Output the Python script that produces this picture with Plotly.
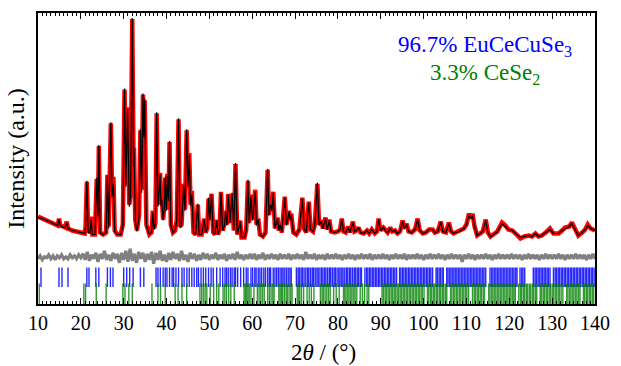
import plotly.graph_objects as go

# ---------------- data ----------------
two_theta = [10.0, 11.0, 12.0, 13.0, 14.0, 14.6, 14.9, 15.2, 16.0, 16.4, 16.7, 17.0, 18.0, 19.0, 20.0,
             20.9, 21.1, 21.4, 21.7, 22.1, 22.4, 22.7, 23.3, 23.7, 24.0, 24.2, 24.5, 25.2, 25.9, 26.2,
             26.5, 27.0, 27.3, 27.6, 27.9, 28.5, 29.3, 29.8, 30.2, 30.5, 30.9, 31.3, 31.6, 32.0, 32.3,
             32.4, 32.7, 33.1, 33.6, 33.9, 34.2, 34.5, 34.7, 34.9, 35.3, 36.0, 36.5, 36.8, 37.1, 37.4,
             37.7, 38.0, 38.2, 38.5, 38.7, 38.9, 39.2, 39.5, 39.7, 39.95, 40.2, 40.45, 40.7, 41.0, 41.5,
             42.0, 42.4, 42.8, 43.1, 43.5, 44.0, 44.3, 44.7, 45.0, 45.3, 45.6, 45.9, 46.3, 46.8, 47.3,
             47.6, 48.2, 48.8, 49.1, 49.5, 49.8, 50.1, 50.5, 50.9, 51.3, 51.7, 52.0, 52.4, 52.7, 53.1,
             53.5, 53.8, 54.1, 54.4, 54.8, 55.3, 55.7, 56.1, 56.5, 57.2, 57.5, 58.2, 58.6, 59.0, 59.3,
             59.7, 60.1, 60.7, 61.0, 61.4, 61.8, 62.5, 63.1, 63.6, 63.9, 64.3, 64.6, 64.9, 65.3, 65.9,
             66.2, 66.5, 66.9, 67.6, 68.0, 68.6, 68.8, 69.1, 69.6, 70.3, 70.8, 71.0, 71.7, 72.1, 72.6,
             73.2, 73.6, 74.2, 74.6, 75.2, 75.6, 76.1, 76.5, 77.1, 77.5, 78.0, 78.4, 79.2, 80.0, 80.5,
             80.9, 81.3, 81.8, 82.4, 82.8, 83.5, 83.9, 84.3, 84.8, 85.3, 86.0, 86.8, 87.3, 87.9, 88.6,
             89.1, 89.5, 89.9, 90.6, 91.2, 91.6, 92.2, 92.7, 93.3, 93.9, 94.5, 95.1, 95.5, 96.0, 96.5,
             97.2, 98.0, 98.6, 99.1, 99.8, 100.5, 101.3, 102.1, 102.6, 103.3, 104.0, 104.5, 105.2, 105.9, 106.4,
             107.0, 107.5, 108.3, 109.0, 109.4, 110.0, 110.6, 111.0, 111.4, 111.9, 112.5, 113.2, 113.8, 114.5, 115.0,
             115.6, 116.4, 117.2, 117.8, 118.3, 119.1, 119.8, 120.7, 121.5, 122.6, 123.5, 124.5, 125.3, 126.1, 126.8,
             127.6, 128.5, 129.5, 130.3, 131.5, 132.3, 133.0, 134.0, 134.6, 135.3, 136.1, 137.0, 137.7, 138.3, 139.0,
             140.0]

i_obs = [88, 86, 84, 82, 80, 79, 86, 79, 78, 77, 83, 76, 74, 73, 72,
         71, 78, 123, 74, 72, 88, 70, 70, 126, 90, 159, 72, 70, 72, 130,
         78, 182, 110, 128, 74, 70, 70, 80, 216, 120, 198, 100, 110, 287, 140,
         157, 85, 74, 90, 175, 115, 211, 170, 205, 80, 70, 72, 94, 76, 82,
         192, 100, 110, 132, 100, 107, 85, 100, 127, 95, 131, 105, 163, 80, 72,
         74, 85, 186, 78, 80, 121, 95, 175, 120, 152, 100, 114, 72, 70, 100,
         70, 70, 86, 72, 76, 106, 85, 111, 72, 70, 85, 70, 75, 113, 74,
         80, 94, 80, 111, 82, 111, 74, 141, 70, 84, 67, 67, 75, 124, 82,
         110, 85, 115, 80, 86, 70, 68, 72, 135, 90, 102, 95, 113, 76, 87,
         74, 81, 72, 108, 80, 94, 85, 91, 72, 70, 74, 75, 107, 76, 72,
         103, 75, 73, 80, 121, 80, 84, 76, 87, 75, 85, 73, 72, 73, 75,
         86, 73, 72, 78, 72, 83, 73, 74, 77, 72, 71, 74, 71, 75, 71,
         73, 86, 74, 77, 73, 72, 77, 73, 74, 71, 73, 84, 76, 81, 73,
         72, 75, 86, 74, 71, 72, 75, 75, 72, 73, 83, 73, 72, 82, 73,
         71, 72, 73, 75, 76, 80, 91, 86, 91, 78, 69, 71, 73, 85, 72,
         68, 70, 73, 78, 82, 79, 75, 74, 71, 66, 68, 69, 68, 71, 68,
         69, 72, 76, 71, 71, 74, 77, 78, 82, 76, 69, 72, 75, 80, 76,
         74]

i_calc = [87, 86, 84, 82, 80, 79, 85, 79, 77, 77, 82, 76, 74, 73, 72,
          71, 77, 124, 73, 71, 85, 70, 70, 127, 88, 160, 72, 70, 72, 129,
          76, 183, 108, 121, 73, 70, 70, 78, 217, 118, 196, 98, 107, 288, 138,
          158, 84, 73, 88, 176, 112, 212, 168, 207, 79, 70, 72, 92, 75, 81,
          193, 98, 108, 130, 99, 105, 84, 99, 128, 94, 129, 104, 164, 79, 72,
          74, 84, 187, 77, 79, 119, 94, 176, 118, 150, 99, 110, 72, 70, 101,
          70, 70, 85, 72, 76, 107, 84, 110, 72, 70, 84, 70, 75, 112, 74,
          79, 93, 79, 110, 81, 112, 74, 142, 70, 83, 67, 67, 74, 125, 81,
          108, 84, 113, 79, 85, 70, 68, 72, 136, 89, 100, 94, 112, 76, 86,
          74, 80, 72, 107, 79, 93, 85, 90, 72, 70, 74, 75, 106, 76, 72,
          102, 75, 73, 79, 122, 79, 83, 76, 86, 75, 84, 73, 72, 73, 75,
          85, 73, 72, 77, 72, 82, 73, 74, 77, 72, 71, 74, 71, 75, 71,
          73, 85, 74, 77, 73, 72, 76, 73, 74, 71, 73, 83, 76, 80, 73,
          72, 75, 85, 74, 71, 72, 75, 75, 72, 73, 82, 73, 72, 81, 73,
          71, 72, 73, 75, 76, 80, 89, 86, 89, 78, 69, 71, 73, 84, 72,
          68, 70, 73, 77, 81, 78, 75, 74, 71, 67, 68, 69, 68, 71, 68,
          69, 72, 75, 71, 71, 74, 76, 78, 81, 76, 69, 72, 75, 79, 76,
          74]

# difference curve (obs - calc), sampled every 0.5 deg from 10 to 140
diff_start, diff_step = 10.0, 0.5
i_diff = [-2, 1, -3, 0, -1, 2, -2, 1, -3, 1, -1, 2, -2, 0, -2, 2, -1, 1, -2, 2,
          -1, 3, -3, 5, -4, 2, -2, 4, -5, 3, -2, 6, -3, 2, -4, 4, -2, 3, -6, 4,
          -3, 6, -5, 8, -4, 3, -6, 5, -2, 4, -5, 3, -3, 5, -7, 4, -3, 6, -4, 2,
          -5, 4, -3, 5, -2, 3, -4, 6, -3, 2, -5, 4, -2, 3, -4, 2, -3, 4, -2, 3,
          -3, 2, -2, 4, -3, 2, -2, 3, -4, 2, -2, 3, -3, 5, -2, 2, -3, 2, -2, 3,
          -2, 3, -3, 2, -2, 4, -3, 2, -2, 3, -2, 2, -3, 3, -2, 2, -2, 3, -3, 2,
          -2, 3, -2, 2, -3, 5, -2, 2, -2, 3, -3, 2, -2, 2, -3, 3, -2, 2, -2, 3,
          -2, 2, -3, 2, -2, 3, -2, 2, -3, 2, -2, 3, -2, 2, -2, 3, -3, 2, -2, 2,
          -2, 3, -2, 2, -3, 2, -2, 3, -2, 2, -2, 3, -3, 2, -2, 2, -2, 3, -2, 2,
          -3, 2, -2, 3, -2, 2, -2, 3, -2, 2, -3, 2, -2, 3, -2, 2, -2, 2, -5, 2,
          -2, 3, -2, 2, -3, 2, -2, 2, -2, 3, -2, 2, -3, 2, -2, 3, -2, 2, -2, 2,
          -2, 3, -2, 2, -2, 2, -3, 2, -2, 3, -2, 2, -2, 2, -3, 2, -2, 3, -2, 2,
          -2, 2, -2, 3, -2, 2, -3, 2, -2, 2, -2, 3, -2, 2, -2, 2, -3, 2, -2, 3,
          -2]

# Bragg reflection positions
refl_eucecuse3 = [10.7, 14.9, 15.6, 17.0, 21.4, 21.9, 23.5, 24.2, 26.2, 26.9, 27.5, 30.0, 30.7, 31.4, 32.2,
                  33.9, 34.7, 37.55, 38.0, 38.55, 39.2, 39.7, 40.1, 40.7, 41.3, 41.65, 42.2, 42.8, 43.6, 44.1,
                  44.75, 45.3, 45.9, 46.45, 47.05, 47.45, 48.05, 48.6, 49.15, 49.8, 50.4, 50.9, 51.7, 52.5, 53.1,
                  53.65, 54.0, 54.4, 54.9, 55.3, 55.8, 56.1, 56.6, 57.3, 58.0, 58.6, 59.0, 59.7, 60.1, 60.6,
                  60.9, 61.4, 61.8, 62.2, 62.7, 63.1, 63.6, 64.0, 64.3, 64.9, 65.3, 65.7, 66.1, 66.5, 66.9,
                  67.2, 67.6, 68.0, 68.4, 68.8, 69.1, 70.3, 70.7, 71.0, 71.4, 71.7, 72.1, 72.5, 72.9, 73.2,
                  73.6, 74.0, 74.3, 74.7, 75.1, 75.4, 75.8, 76.2, 76.5, 76.9, 77.2, 77.6, 78.0, 78.3, 78.7,
                  79.1, 79.4, 79.8, 80.2, 80.5, 80.9, 81.2, 81.6, 82.0, 82.3, 82.7, 83.0, 83.4, 83.8, 84.1,
                  84.5, 84.8, 85.2, 85.5, 86.3, 86.7, 87.0, 87.4, 87.7, 88.1, 88.4, 88.8, 89.1, 89.5, 89.8,
                  90.2, 90.5, 90.9, 91.2, 91.6, 91.9, 92.3, 92.6, 93.0, 93.3, 93.7, 94.4, 94.7, 95.1, 95.4,
                  95.8, 96.1, 96.5, 96.8, 97.2, 97.5, 97.9, 98.2, 98.6, 98.9, 99.3, 99.6, 100.0, 100.3, 100.7,
                  101.0, 101.4, 101.7, 102.1, 102.9, 103.2, 103.6, 103.9, 104.3, 104.6, 105.4, 105.7, 106.1, 106.4, 106.8,
                  107.1, 107.5, 107.8, 108.2, 108.5, 108.9, 109.2, 109.6, 109.9, 110.3, 110.6, 111.0, 111.3, 111.7, 112.0,
                  112.4, 112.7, 113.1, 113.4, 113.8, 114.1, 114.5, 115.5, 115.9, 116.2, 116.6, 116.9, 117.3, 117.6, 118.0,
                  118.3, 118.7, 119.0, 119.4, 119.7, 120.1, 120.4, 120.8, 121.1, 121.5, 121.8, 122.5, 122.9, 123.2, 123.6,
                  125.6, 126.0, 126.3, 126.7, 127.0, 127.4, 127.7, 128.1, 128.4, 128.8, 129.1, 129.5, 130.3, 130.7, 131.0,
                  131.4, 131.7, 132.1, 132.4, 132.8, 133.1, 133.5, 133.8, 134.2, 134.5, 134.9, 135.2, 135.6, 135.9, 136.3,
                  136.6, 137.0, 137.3, 137.7, 138.0, 138.4, 138.7, 139.1, 139.4, 139.8]

refl_cese2 = [10.3, 20.7, 21.1, 23.6, 25.9, 29.8, 30.3, 31.2, 32.0, 36.6, 38.0, 38.6, 39.7, 42.0, 42.7,
              43.6, 44.7, 47.8, 48.2, 48.6, 49.0, 49.4, 50.2, 51.0, 51.7, 52.2, 53.2, 53.6, 54.0, 54.5,
              55.0, 55.8, 58.1, 58.4, 58.7, 59.0, 59.3, 59.7, 60.4, 61.2, 61.6, 62.0, 62.4, 62.8, 63.6,
              64.0, 64.4, 64.8, 65.1, 66.2, 66.5, 66.8, 67.1, 67.5, 67.9, 68.2, 68.6, 69.0, 69.3, 70.5,
              70.8, 71.1, 71.5, 72.0, 72.8, 73.3, 73.8, 74.4, 75.9, 76.3, 76.6, 77.0, 77.4, 77.8, 78.2,
              79.0, 79.6, 80.3, 81.3, 81.6, 81.9, 82.3, 82.6, 83.0, 83.3, 83.7, 84.0, 84.4, 85.2, 85.7,
              86.2, 86.8, 87.2, 90.3, 90.6, 91.0, 91.3, 91.7, 92.0, 92.4, 92.7, 93.1, 93.4, 93.8, 94.1,
              94.5, 94.8, 95.2, 95.5, 95.9, 96.2, 96.6, 96.9, 97.3, 97.6, 98.0, 98.3, 98.7, 99.0, 99.4,
              99.7, 100.1, 100.9, 101.2, 101.6, 101.9, 102.3, 102.6, 103.0, 103.3, 103.7, 104.0, 104.4, 104.7, 105.1,
              105.4, 106.3, 106.6, 107.0, 107.3, 107.7, 108.0, 108.4, 108.7, 109.1, 109.4, 109.8, 110.1, 110.5, 111.4,
              111.8, 112.1, 112.5, 112.8, 113.2, 113.5, 113.9, 114.2, 115.2, 115.5, 115.9, 116.2, 116.6, 116.9, 117.3,
              117.6, 118.0, 118.3, 118.7, 119.0, 119.4, 119.7, 120.1, 120.4, 120.8, 121.1, 121.4, 122.2, 122.6, 122.9,
              123.3, 123.6, 124.0, 124.3, 124.7, 125.0, 125.4, 125.7, 126.1, 126.4, 127.2, 127.5, 127.9, 128.2, 128.6,
              128.9, 129.3, 129.6, 130.0, 130.3, 130.7, 131.0, 131.4, 131.7, 132.1, 132.5, 133.4, 133.7, 134.1, 134.4,
              134.8, 135.1, 135.5, 135.8, 136.2, 136.5, 137.3, 137.6, 138.0, 138.3, 138.7, 139.0, 139.4, 139.7]

x_ticks = [10, 20, 30, 40, 50, 60, 70, 80, 90, 100, 110, 120, 130, 140]
phase_labels = ["96.7% EuCeCuSe<sub>3</sub>", "3.3% CeSe<sub>2</sub>"]
x_title = "2<i>θ</i> / (°)"
y_title = "Intensity (a.u.)"

assert len(two_theta) == len(i_obs) == len(i_calc)

# ---------------- layout constants (styling, not data) ----------------
diff_offset = 47.5
blue_row_y = 27.0
green_row_y = 10.0
FONT = "Liberation Serif"

diff_x = [diff_start + k * diff_step for k in range(len(i_diff))]
diff_y = [d + diff_offset for d in i_diff]

fig = go.Figure()

fig.add_trace(go.Scatter(x=two_theta, y=i_obs, mode="lines",
                         line=dict(color="#ff0000", width=4.5), name="obs"))
fig.add_trace(go.Scatter(x=two_theta, y=i_calc, mode="lines",
                         line=dict(color="#000000", width=1.2), name="calc"))
fig.add_trace(go.Scatter(x=diff_x, y=diff_y, mode="lines",
                         line=dict(color="#808080", width=3.2), name="diff"))
fig.add_trace(go.Scatter(x=refl_eucecuse3, y=[blue_row_y] * len(refl_eucecuse3), mode="markers",
                         marker=dict(symbol="line-ns", size=14, color="rgba(0,0,255,0.85)",
                                     line=dict(color="rgba(0,0,255,0.85)", width=1.4)),
                         name="EuCeCuSe3"))
fig.add_trace(go.Scatter(x=refl_cese2, y=[green_row_y] * len(refl_cese2), mode="markers",
                         marker=dict(symbol="line-ns", size=15, color="rgba(0,128,0,0.8)",
                                     line=dict(color="rgba(0,128,0,0.8)", width=1.4)),
                         name="CeSe2"))

fig.add_annotation(x=0.802, y=0.885, xref="paper", yref="paper", text=phase_labels[0],
                   showarrow=False, font=dict(family=FONT, size=23, color="#0000ff"),
                   xanchor="center", yanchor="middle")
fig.add_annotation(x=0.802, y=0.79, xref="paper", yref="paper", text=phase_labels[1],
                   showarrow=False, font=dict(family=FONT, size=23, color="#008000"),
                   xanchor="center", yanchor="middle")
# x-axis title (placed slightly right of centre, as in the reference)
fig.add_annotation(x=0.5125, y=-0.165, xref="paper", yref="paper", text=x_title,
                   showarrow=False, font=dict(family=FONT, size=23, color="black"),
                   xanchor="center", yanchor="middle")

fig.update_layout(
    width=621, height=366,
    margin=dict(l=38, r=23, t=11, b=62),
    paper_bgcolor="white", plot_bgcolor="white",
    showlegend=False,
    font=dict(family=FONT, color="black"),
    xaxis=dict(range=[10, 140], tickmode="array", tickvals=x_ticks,
               ticktext=[str(v) for v in x_ticks],
               ticks="inside", ticklen=6, tickwidth=1.2, tickcolor="black",
               minor=dict(dtick=1, ticks="inside", ticklen=3, tickwidth=1, tickcolor="black"),
               showline=True, linecolor="black", linewidth=1.5, mirror="ticks",
               showgrid=False, zeroline=False,
               tickfont=dict(family=FONT, size=20, color="black")),
    yaxis=dict(range=[0, 293], showticklabels=False, ticks="",
               showline=True, linecolor="black", linewidth=1.5, mirror=True,
               showgrid=False, zeroline=False,
               title=dict(text=y_title, font=dict(family=FONT, size=24, color="black"),
                          standoff=5)),
)

fig.write_html("out.html")
